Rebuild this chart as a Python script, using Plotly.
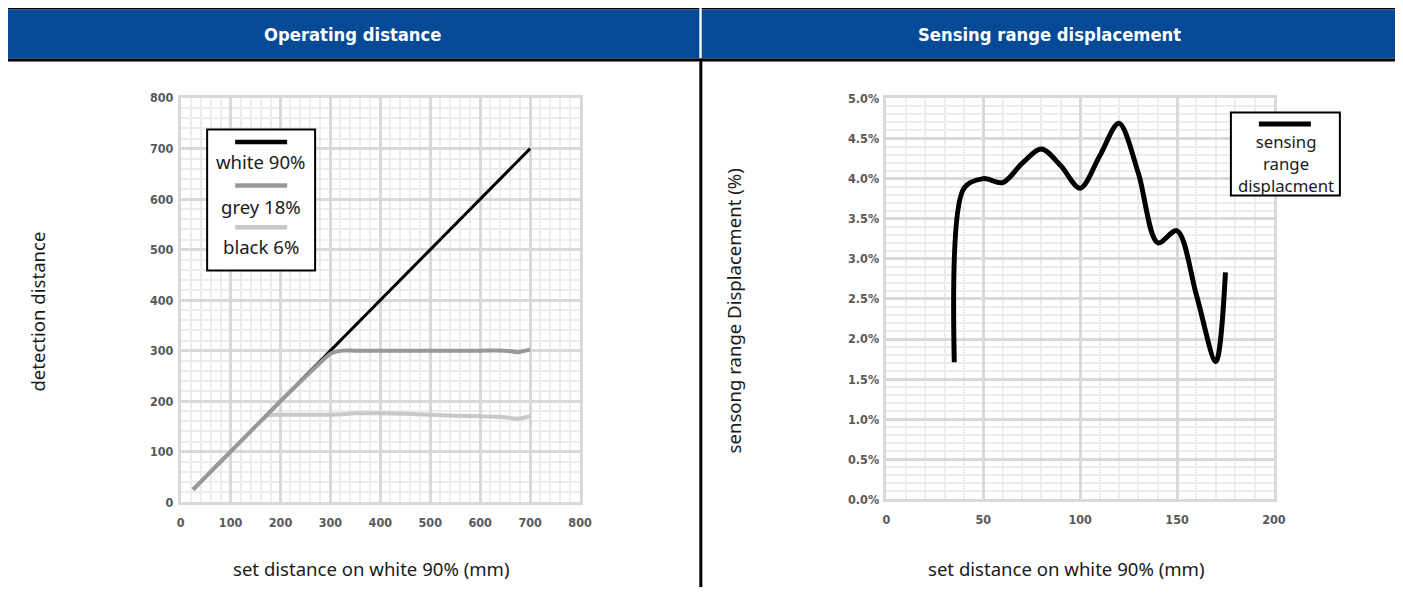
import plotly.graph_objects as go

# ---------------- data ----------------
# Left chart: operating distance (set distance vs detection distance, mm)
op_x = [25, 50, 100, 150, 175, 200, 250, 275, 300, 325, 350, 400, 450, 500, 550, 600, 650, 675, 700]
white_90 = [25, 50, 100, 150, 175, 200, 250, 275, 300, 325, 350, 400, 450, 500, 550, 600, 650, 675, 700]
grey_18 = [25, 50, 100, 150, 175, 200, 248, 272, 294, 300, 300, 300, 300, 300, 300, 300, 300, 297, 302]
black_6 = [25, 50, 100, 150, 172, 173, 173, 173, 173, 174, 176, 176, 175, 173, 171, 170, 168, 165, 170]

# Right chart: sensing range displacement (%)
srd_x = [35, 40, 50, 60, 70, 80, 90, 100, 110, 120, 130, 140, 150, 160, 170, 175]
srd_y = [1.71, 3.88, 4.0, 3.95, 4.19, 4.37, 4.16, 3.88, 4.28, 4.69, 4.07, 3.2, 3.35, 2.55, 1.72, 2.83]

left_ticks = [0, 100, 200, 300, 400, 500, 600, 700, 800]
right_xticks = [0, 50, 100, 150, 200]
right_yticks = [0.0, 0.5, 1.0, 1.5, 2.0, 2.5, 3.0, 3.5, 4.0, 4.5, 5.0]

# Page geometry: 8px body margin, figure fills the rest of the 1403x595 window.
# Positions below are given in target-picture pixels and converted to paper units.
MARGIN = 8
FW, FH = 1403 - 2 * MARGIN, 595 - 2 * MARGIN
SX, SY = 0.9887, 0.974
OX, OY = 3.9, 7.8
K = 1.015  # size compensation

def px(x):
    return ((x - OX) / SX - MARGIN) / FW
def py(y):
    return 1 - ((y - OY) / SY - MARGIN) / FH

fig = go.Figure()
fig.add_trace(go.Scatter(x=op_x, y=white_90, mode="lines", name="white 90%",
                         line=dict(color="#000000", width=3, shape="spline", smoothing=0.6),
                         xaxis="x", yaxis="y", showlegend=False))
fig.add_trace(go.Scatter(x=op_x, y=black_6, mode="lines", name="black 6%",
                         line=dict(color="#c8c8c8", width=4, shape="spline", smoothing=0.6),
                         xaxis="x", yaxis="y", showlegend=False))
fig.add_trace(go.Scatter(x=op_x, y=grey_18, mode="lines", name="grey 18%",
                         line=dict(color="#989898", width=4, shape="spline", smoothing=0.6),
                         xaxis="x", yaxis="y", showlegend=False))
fig.add_trace(go.Scatter(x=srd_x, y=srd_y, mode="lines", name="sensing range displacment",
                         line=dict(color="#000000", width=5, shape="spline", smoothing=0.9),
                         xaxis="x2", yaxis="y2", showlegend=False))

tickfont = dict(family="DejaVu Sans Condensed, DejaVu Sans", size=12.5, color="#595959", weight="bold")
major = "#d9d9d9"
minor = "#ececec"

def axis(domain, rng, mdtick, anchor, ticks, labels, **kw):
    d = dict(domain=domain, range=rng, tickvals=ticks, ticktext=labels, anchor=anchor,
             showgrid=True, gridcolor=major, gridwidth=2.5,
             minor=dict(dtick=mdtick, showgrid=True, gridcolor=minor, gridwidth=2),
             showline=True, linecolor=major, linewidth=2.5, mirror=True,
             zeroline=False, ticks="", tickfont=tickfont, fixedrange=True)
    d.update(kw)
    return d

fig.update_layout(
    width=FW, height=FH,
    margin=dict(l=0, r=0, t=0, b=0),
    paper_bgcolor="white", plot_bgcolor="white",
    hovermode=False,
    xaxis=axis([px(180.5), px(580)], [0, 800], 20, "y", left_ticks, [str(v) for v in left_ticks],
               ticklabelstandoff=7),
    yaxis=axis([py(501.7), py(97.7)], [0, 800], 20, "x", left_ticks, [str(v) for v in left_ticks],
               ticklabelstandoff=2),
    xaxis2=axis([px(886.5), px(1274)], [0, 200], 10, "y2", right_xticks, [str(v) for v in right_xticks],
                ticklabelstandoff=7),
    yaxis2=axis([py(499), py(98)], [0, 5], 0.1, "x2", right_yticks,
                ["%.1f%%" % v for v in right_yticks], ticklabelstandoff=2),
)

shapes = []
def rect(x0, y0, x1, y1, fill):
    shapes.append(dict(type="rect", xref="paper", yref="paper",
                       x0=px(x0), x1=px(x1), y0=py(y1), y1=py(y0),
                       fillcolor=fill, line=dict(color=fill, width=0), layer="above"))

# frame and header bands
rect(3, 5, 699.3, 9, "#000000")
rect(701.7, 5, 1399, 9, "#000000")
rect(6, 9, 699.3, 58, "#044a96")
rect(701.7, 9, 1396, 58, "#044a96")
rect(3, 58, 1399, 61, "#000000")
rect(3, 5, 6, 600, "#000000")
rect(699.3, 58, 702.3, 600, "#000000")
rect(1396, 5, 1399, 600, "#000000")

# left legend (sample line above each label)
shapes.append(dict(type="rect", xref="paper", yref="paper",
                   x0=px(207), x1=px(315), y0=py(270), y1=py(129),
                   fillcolor="white", line=dict(color="#000000", width=2), layer="above"))
for yy, col in [(141.7, "#000000"), (185, "#989898"), (226.7, "#c8c8c8")]:
    shapes.append(dict(type="line", xref="paper", yref="paper",
                       x0=px(235), x1=px(287), y0=py(yy), y1=py(yy),
                       line=dict(color=col, width=4.5), layer="above"))
# right legend
shapes.append(dict(type="rect", xref="paper", yref="paper",
                   x0=px(1231), x1=px(1340), y0=py(195), y1=py(112),
                   fillcolor="white", line=dict(color="#000000", width=2), layer="above"))
shapes.append(dict(type="line", xref="paper", yref="paper",
                   x0=px(1259), x1=px(1311), y0=py(123.5), y1=py(123.5),
                   line=dict(color="#000000", width=5), layer="above"))
fig.update_layout(shapes=shapes)

ann = []
def text(x, y, s, size, color="#1a1a1a", family="Noto Sans, DejaVu Sans", weight="normal",
         angle=0):
    ann.append(dict(xref="paper", yref="paper", x=px(x), y=py(y), text=s, showarrow=False,
                    xanchor="center", yanchor="middle", textangle=angle, align="center",
                    font=dict(family=family, size=size * K, color=color, weight=weight)))

hfont = "DejaVu Sans Condensed, DejaVu Sans"
text(352, 34, "Operating distance", 18, color="white", family=hfont, weight="bold")
text(1050, 34, "Sensing range displacement", 18, color="white", family=hfont, weight="bold")
text(37, 311, "detection distance", 18.3, angle=-90)
text(371, 568, "set distance on white 90% (mm)", 18.3)
text(733, 311, "sensong range Displacement (%)", 18.3, angle=-90)
text(1067, 568, "set distance on white 90% (mm)", 18.3)
text(261, 161.5, "white 90%", 18.3)
text(261, 206, "grey 18%", 18.3)
text(261, 246.5, "black 6%", 18.3)
text(1286, 163, "sensing<br>range<br>displacment", 16.5)
fig.update_layout(annotations=ann)

fig.write_html("out.html", config={"displayModeBar": False})
